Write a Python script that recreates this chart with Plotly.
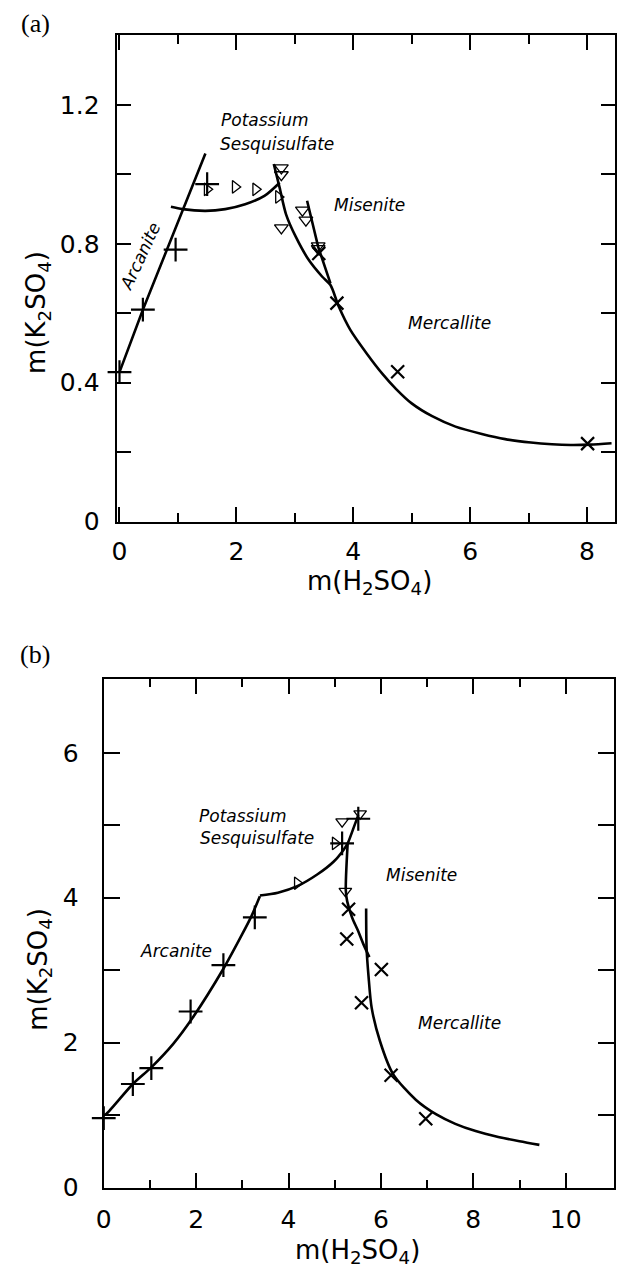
import plotly.graph_objects as go

# ---------------- panel (a) ----------------
a_arcanite_line_x = [0.0, 0.40, 1.47]
a_arcanite_line_y = [0.43, 0.61, 1.06]
a_sesqui_line_x = [0.88, 1.08, 1.47, 1.81, 2.15, 2.48, 2.74]
a_sesqui_line_y = [0.907, 0.900, 0.895, 0.900, 0.914, 0.938, 0.976]
a_mercallite_line_x = [2.64, 2.74, 2.85, 3.02, 3.24, 3.47, 3.61, 3.75, 3.95, 4.23, 4.50, 4.73, 5.00, 5.35, 5.75, 6.20, 6.60, 7.04, 7.40, 7.72, 8.05, 8.42]
a_mercallite_line_y = [1.030, 0.962, 0.885, 0.819, 0.753, 0.705, 0.681, 0.620, 0.552, 0.484, 0.425, 0.382, 0.340, 0.303, 0.273, 0.252, 0.237, 0.227, 0.222, 0.220, 0.221, 0.225]
a_misenite_line_x = [3.21, 3.40, 3.61]
a_misenite_line_y = [0.924, 0.791, 0.686]

a_plus_x = [0.0, 0.40, 0.96, 1.50]
a_plus_y = [0.43, 0.61, 0.783, 0.972]
a_cross_x = [3.41, 3.72, 4.76, 8.01]
a_cross_y = [0.772, 0.629, 0.431, 0.224]
a_tri_right_x = [1.50, 1.98, 2.33, 2.72]
a_tri_right_y = [0.957, 0.964, 0.957, 0.935]
a_tri_down_x = [2.77, 2.77, 2.77, 3.13, 3.19, 3.40, 3.40]
a_tri_down_y = [1.019, 0.999, 0.846, 0.897, 0.868, 0.794, 0.786]

# ---------------- panel (b) ----------------
b_arcanite_line_x = [0.0, 0.06, 0.63, 1.03, 1.50, 1.92, 2.59, 3.00, 3.20, 3.38]
b_arcanite_line_y = [1.00, 1.02, 1.43, 1.66, 1.98, 2.34, 3.02, 3.50, 3.75, 4.02]
b_sesqui_line_x = [3.38, 3.77, 4.19, 4.62, 4.98, 5.19, 5.28, 5.40, 5.51]
b_sesqui_line_y = [4.03, 4.07, 4.16, 4.32, 4.50, 4.66, 4.75, 4.95, 5.14]
b_misenite_line_x = [5.28, 5.24, 5.27, 5.38, 5.50, 5.62, 5.75]
b_misenite_line_y = [4.75, 4.10, 3.95, 3.72, 3.55, 3.36, 3.18]
b_mercallite_line_x = [5.68, 5.69, 5.73, 5.80, 5.98, 6.26, 6.76, 7.20, 7.61, 8.05, 8.54, 9.00, 9.43]
b_mercallite_line_y = [3.85, 3.30, 2.93, 2.48, 2.02, 1.57, 1.21, 1.01, 0.88, 0.78, 0.70, 0.64, 0.59]

b_plus_x = [0.0, 0.63, 1.03, 1.88, 2.59, 3.27, 5.16, 5.51]
b_plus_y = [0.96, 1.43, 1.65, 2.43, 3.07, 3.73, 4.75, 5.09]
b_cross_x = [5.30, 5.26, 6.01, 5.58, 6.22, 6.97]
b_cross_y = [3.84, 3.43, 3.01, 2.55, 1.55, 0.95]
b_tri_right_x = [4.19, 5.01]
b_tri_right_y = [4.20, 4.75]
b_tri_down_x = [5.16, 5.55, 5.23]
b_tri_down_y = [5.05, 5.16, 4.09]

FONT = "DejaVu Sans"
W, H = 619, 1281

fig = go.Figure()


def curve(x, y, xa, ya, smooth=True):
    fig.add_trace(go.Scatter(
        x=x, y=y, mode="lines", xaxis=xa, yaxis=ya, showlegend=False,
        hoverinfo="skip", cliponaxis=False,
        line=dict(color="black", width=2.6,
                  shape="spline" if smooth else "linear", smoothing=0.8),
    ))


def points(x, y, xa, ya, symbol, size, lw):
    fig.add_trace(go.Scatter(
        x=x, y=y, mode="markers", xaxis=xa, yaxis=ya, showlegend=False,
        cliponaxis=False,
        marker=dict(symbol=symbol, size=size, color="black",
                    line=dict(color="black", width=lw)),
    ))


# panel (a) curves and data
curve(a_arcanite_line_x, a_arcanite_line_y, "x", "y", smooth=False)
curve(a_sesqui_line_x, a_sesqui_line_y, "x", "y")
curve(a_mercallite_line_x, a_mercallite_line_y, "x", "y")
curve(a_misenite_line_x, a_misenite_line_y, "x", "y", smooth=False)
points(a_tri_right_x, a_tri_right_y, "x", "y", "triangle-right-open", 11, 1.3)
points(a_tri_down_x, a_tri_down_y, "x", "y", "triangle-down-open", 12, 1.3)
points(a_plus_x, a_plus_y, "x", "y", "cross-thin", 17, 2.2)
points(a_cross_x, a_cross_y, "x", "y", "x-thin", 13, 2.2)

# panel (b) curves and data
curve(b_arcanite_line_x, b_arcanite_line_y, "x2", "y2")
curve(b_sesqui_line_x, b_sesqui_line_y, "x2", "y2")
curve(b_misenite_line_x, b_misenite_line_y, "x2", "y2")
curve(b_mercallite_line_x, b_mercallite_line_y, "x2", "y2")
points(b_tri_right_x, b_tri_right_y, "x2", "y2", "triangle-right-open", 11, 1.3)
points(b_tri_down_x, b_tri_down_y, "x2", "y2", "triangle-down-open", 11, 1.3)
points(b_plus_x, b_plus_y, "x2", "y2", "cross-thin", 17, 2.2)
points(b_cross_x, b_cross_y, "x2", "y2", "x-thin", 13, 2.2)


def axis_style(domain, rng, major, minor, major_len, minor_len, standoff, anchor):
    return dict(
        domain=domain, range=rng, anchor=anchor,
        showline=True, linecolor="black", linewidth=2, mirror="ticks",
        showgrid=False, zeroline=False,
        ticks="inside", tickvals=major, ticktext=[f"{v:g}" for v in major],
        ticklen=major_len, tickwidth=2, tickcolor="black",
        ticklabelstandoff=standoff,
        tickfont=dict(family=FONT, size=25, color="black"),
        minor=dict(tickvals=minor, ticks="inside", ticklen=minor_len,
                   tickwidth=2, tickcolor="black", showgrid=False),
    )


fig.update_layout(
    width=W, height=H,
    margin=dict(l=0, r=0, t=0, b=0),
    paper_bgcolor="white", plot_bgcolor="white",
    xaxis=axis_style([110 / W, 615 / W], [-0.05, 8.48], [0, 2, 4, 6, 8],
                     [1, 3, 5, 7], 15, 9, 6, "y"),
    yaxis=axis_style([1 - 528 / H, 1 - 35 / H], [-0.0014, 1.403],
                     [0, 0.4, 0.8, 1.2], [0.2, 0.6, 1.0], 14, 14, 10, "x"),
    xaxis2=axis_style([97 / W, 613.5 / W], [0, 11.036], [0, 2, 4, 6, 8, 10],
                      [1, 3, 5, 7, 9], 15, 8, 8, "y2"),
    yaxis2=axis_style([1 - 1201.7 / H, 1 - 686.7 / H], [0, 7.023],
                      [0, 2, 4, 6], [1, 3, 5], 16, 16, 18, "x2"),
)

ann = []


def paper_text(text, px, py, size, family=FONT, angle=0):
    ann.append(dict(text=text, x=px / W, y=1 - py / H, xref="paper", yref="paper",
                    xanchor="center", yanchor="middle", showarrow=False,
                    textangle=angle, font=dict(family=family, size=size, color="black")))


def data_text(text, x, y, xr, yr, anchor="center", angle=0):
    ann.append(dict(text=f"<i>{text}</i>", x=x, y=y, xref=xr, yref=yr,
                    xanchor=anchor, yanchor="middle", showarrow=False,
                    textangle=angle, font=dict(family=FONT, size=17, color="black")))


# panel tags
paper_text("(a)", 27.7, 23.3, 26, family="Liberation Serif")
paper_text("(b)", 27.7, 662, 26, family="Liberation Serif")

# axis titles
paper_text("m(H<sub>2</sub>SO<sub>4</sub>)", 366, 589.7, 26)
paper_text("m(K<sub>2</sub>SO<sub>4</sub>)", 30, 316, 26, angle=-90)
paper_text("m(H<sub>2</sub>SO<sub>4</sub>)", 354, 1266, 26)
paper_text("m(K<sub>2</sub>SO<sub>4</sub>)", 31.7, 981, 26, angle=-90)

# phase field names, panel (a)
data_text("Potassium", 1.70, 1.156, "x", "y", anchor="left")
data_text("Sesquisulfate", 1.69, 1.087, "x", "y", anchor="left")
data_text("Misenite", 4.27, 0.912, "x", "y")
data_text("Mercallite", 5.64, 0.572, "x", "y")
data_text("Arcanite", 0.355, 0.765, "x", "y", angle=-65)

# phase field names, panel (b)
data_text("Potassium", 2.02, 5.13, "x2", "y2", anchor="left")
data_text("Sesquisulfate", 2.04, 4.82, "x2", "y2", anchor="left")
data_text("Misenite", 6.88, 4.32, "x2", "y2")
data_text("Mercallite", 7.71, 2.27, "x2", "y2")
data_text("Arcanite", 1.56, 3.26, "x2", "y2")

fig.update_layout(annotations=ann)
fig.write_html("out.html")
